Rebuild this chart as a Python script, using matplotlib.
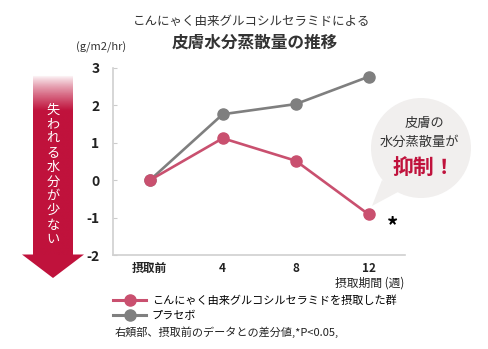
import numpy as np
import matplotlib
matplotlib.use('Agg')
import matplotlib.pyplot as plt
from matplotlib.lines import Line2D
from matplotlib.patches import Circle, Polygon

# フォント設定
plt.rcParams['font.family'] = ['Noto Sans CJK JP', 'DejaVu Sans']
plt.rcParams['axes.unicode_minus'] = False

# データ
periods = ['摂取前', '4', '8', '12']
glucosyl = [0, 1.12, 0.52, -0.91]
placebo = [0, 1.76, 2.03, 2.76]
y_ticks = [-2, -1, 0, 1, 2, 3]

PINK = '#c9506f'
GRAY = '#7f7f7f'
CRIMSON = '#c0123c'

fig = plt.figure(figsize=(4.88, 3.49), dpi=100)

# 背景用（ピクセル座標）
bg = fig.add_axes([0, 0, 1, 1], zorder=0)
bg.set_xlim(0, 488)
bg.set_ylim(349, 0)
bg.axis('off')

# 左の矢印（グラデーション）
grad = np.ones((200, 1, 4))
rgb = matplotlib.colors.to_rgb(CRIMSON)
grad[:, 0, :3] = rgb
t = np.linspace(75, 255, 200)
grad[:, 0, 3] = np.clip((t - 75) / 35, 0, 1) ** 0.8
bg.imshow(grad, extent=[33, 73, 255, 75], aspect='auto', interpolation='bilinear', zorder=1)
bg.add_patch(Polygon([[22, 254.5], [84, 254.5], [53, 278]], closed=True, color=CRIMSON, lw=0, zorder=1))
arrow_text = '失われる水分が少ない'
for i, ch in enumerate(arrow_text):
    bg.text(53, 110 + i * 14.4, ch, color='white', fontsize=9.5, ha='center', va='center', zorder=2)

# 吹き出し
bg.add_patch(Circle((421, 148), 50, color='#f1efee', lw=0, zorder=1))
bg.add_patch(Polygon([[382, 180], [372, 206], [398, 192]], closed=True, color='#f1efee', lw=0, zorder=1))
bg.text(424, 123, '皮膚の', fontsize=9.5, ha='center', va='center', color='#333333', zorder=2)
bg.text(419, 142, '水分蒸散量が', fontsize=9.5, ha='center', va='center', color='#333333', zorder=2)
bg.text(424, 168, '抑制！', fontsize=15, fontweight='bold', ha='center', va='center', color=CRIMSON, zorder=2)

# タイトル
bg.text(252, 22, 'こんにゃく由来グルコシルセラミドによる', fontsize=9, ha='center', va='center', color='#333333')
bg.text(255, 43, '皮膚水分蒸散量の推移', fontsize=12, fontweight='bold', ha='center', va='center', color='#333333')
bg.text(101, 47, '(g/m2/hr)', fontsize=8, ha='center', va='center', color='#333333')

# メイングラフ
ax = fig.add_axes([0.2322, 0.2685, 0.598, 0.5375], zorder=1)
ax.patch.set_alpha(0)
x = np.arange(len(periods))
ax.plot(x, placebo, color=GRAY, lw=1.9, marker='o', markersize=8, zorder=3)
ax.plot(x, glucosyl, color=PINK, lw=1.9, marker='o', markersize=8, zorder=4)

ax.set_xlim(-0.5, 3.5)
ax.set_ylim(-2, 3)
ax.set_yticks(y_ticks)
ax.set_yticklabels([str(v) for v in y_ticks], fontsize=10, fontweight='bold', color='#222222')
ax.set_xticks(x)
ax.set_xticklabels(periods, fontsize=8.5, fontweight='bold', color='#222222')
ax.tick_params(axis='y', direction='in', length=3, color='#cccccc', pad=10)
ax.tick_params(axis='x', length=0, pad=5)
for s in ['top', 'right']:
    ax.spines[s].set_visible(False)
for s in ['left', 'bottom']:
    ax.spines[s].set_color('#d0d0d0')
    ax.spines[s].set_linewidth(1.2)

# 有意差マーク
ax.text(3.33, glucosyl[3] - 0.33, '*', fontsize=16, fontweight='bold', ha='center', va='center')

bg.text(370, 283, '摂取期間 (週)', fontsize=8.5, ha='center', va='center', color='#222222')

# 凡例
handles = [Line2D([], [], color=PINK, lw=2.2, marker='o', markersize=8),
           Line2D([], [], color=GRAY, lw=2.2, marker='o', markersize=8)]
labels = ['こんにゃく由来グルコシルセラミドを摂取した群', 'プラセボ']
fig.legend(handles, labels, loc='upper left', bbox_to_anchor=(113 / 488, 1 - 295 / 349),
           frameon=False, fontsize=8, handlelength=3.0, handletextpad=0.5,
           labelspacing=0.45, borderpad=0, borderaxespad=0)

bg.text(115, 332, '右頬部、摂取前のデータとの差分値,*P<0.05,', fontsize=8, ha='left', va='center', color='#222222')

fig.savefig('out.png', dpi=100)
